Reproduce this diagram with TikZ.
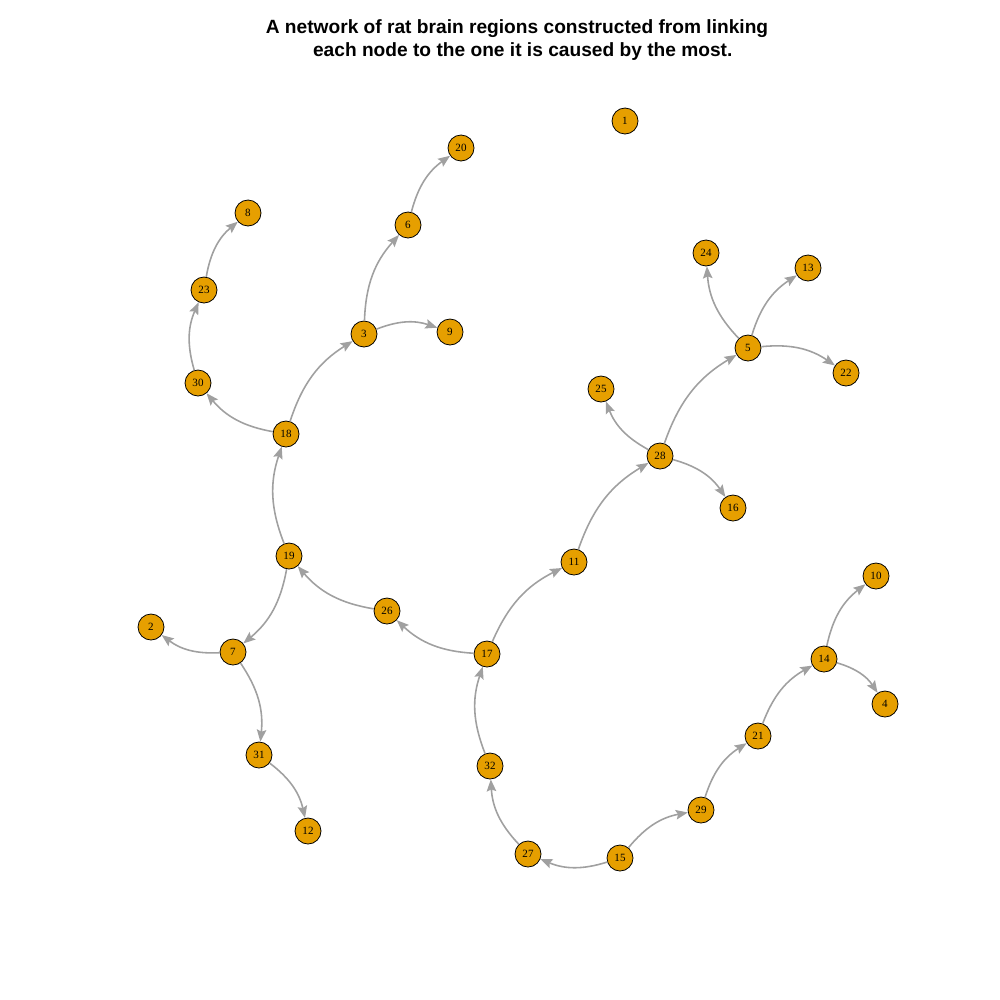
\documentclass[tikz,border=0pt]{standalone}
\usepackage{fontspec}
\setmainfont{Liberation Serif}
\newfontfamily\titlefont{Liberation Sans}
\usetikzlibrary{arrows.meta}

\definecolor{regionfill}{HTML}{E69F00}
\definecolor{linkgray}{RGB}{160,160,160}

\tikzset{
	region/.style = {circle, draw = black, line width = 0.45pt, fill = regionfill, minimum size = 5.2mm, inner sep = 0pt, font = \fontsize{6.3}{7}\selectfont},
	link/.style = {linkgray, line width = 0.9pt, ->, bend left = 20}
}

\begin{document}
\begin{tikzpicture}[> = {Stealth[length = 2.4mm, width = 1.9mm, inset = 0.4mm]}, x = 0.2mm, y = -0.2mm]

	\useasboundingbox (0, 0) rectangle (1000, 1000);

	% Title

	\node [align = center, font = \titlefont\bfseries\fontsize{10.9}{13.1}\selectfont] (title) at (517, 40)
		{A network of rat brain regions constructed from linking\\\hspace{0.6em}each node to the one it is caused by the most.};

	% Regions

	\foreach \n/\x/\y in {1/625/121, 20/461/148, 8/248/213, 6/408/225, 24/706/253, 13/808/268,
		23/204/290, 3/364/334, 9/450/332, 5/748/348, 22/846/373, 30/198/383, 25/601/389,
		18/286/434, 28/660/456, 16/733/508, 19/289/556, 11/574/562, 10/876/576, 26/387/611,
		2/151/627, 7/233/652, 17/487/654, 14/824/659, 4/885/704, 21/758/736, 31/259/755,
		32/490/766, 29/701/810, 12/308/831, 27/528/854, 15/620/858}
		\node [region] (r\n) at (\x, \y) {\n};

	% Links

	\foreach \a/\b in {6/20, 23/8, 3/6, 5/24, 5/13, 30/23, 3/9, 5/22, 18/3, 18/30, 28/25,
		28/5, 28/16, 19/18, 11/28, 17/11, 17/26, 26/19, 19/7, 7/2, 7/31, 31/12, 14/10,
		14/4, 21/14, 29/21, 15/29, 15/27, 27/32, 32/17}
		\draw [link] (r\a) to (r\b);

\end{tikzpicture}
\end{document}
